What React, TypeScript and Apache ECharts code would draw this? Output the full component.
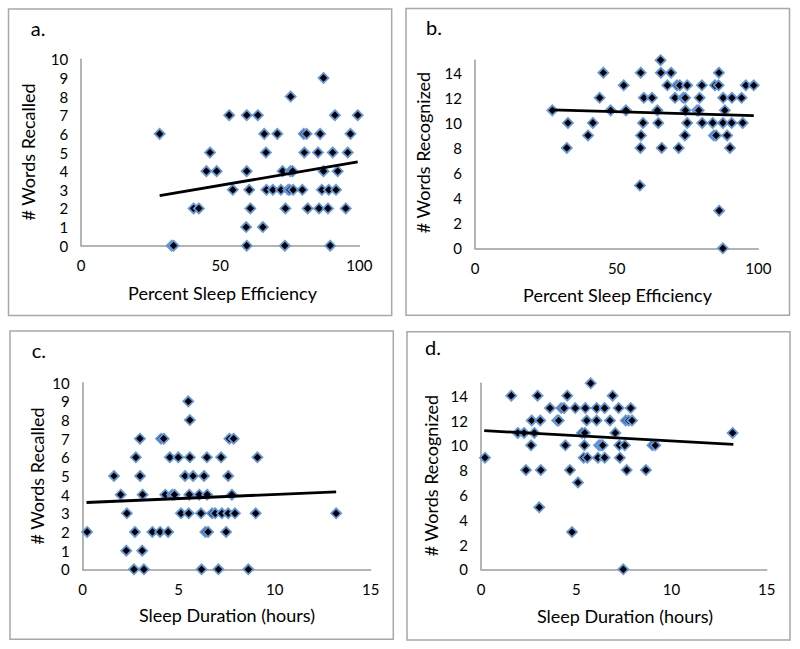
import React, { useEffect, useRef } from "react";
import * as echarts from "echarts";

// Panel a: Percent Sleep Efficiency vs # Words Recalled
const effRecalled: number[][] = [
  [28.2, 6], [32.5, 0], [33.2, 0], [40.4, 2], [42.3, 2], [45, 4], [48.7, 4], [46.3, 5],
  [53.2, 7], [54.5, 3], [59.5, 7], [59.5, 4], [59.3, 1], [59.5, 0], [60.4, 3], [60.8, 2],
  [63.5, 7], [65.3, 1], [65.8, 6], [66.4, 5], [66.6, 3], [68.9, 3], [70.5, 6], [71.8, 3],
  [72.4, 4], [73.4, 2], [73.2, 0], [74.4, 3], [75, 3], [75.3, 8], [75.2, 4], [76, 4],
  [76.2, 3], [79.5, 3], [80.2, 5], [80, 6], [81, 6], [81.4, 2], [85.1, 5], [85.9, 6],
  [85.5, 2], [86.5, 3], [87.1, 9], [87.1, 4], [89, 3], [88.7, 2], [89.5, 0], [90.4, 5],
  [91.2, 7], [91.6, 3], [92.2, 4], [95.1, 2], [95.8, 5], [96.8, 6], [99.4, 7],
];
const trendA: number[][] = [[28.2, 2.68], [99.4, 4.5]];

// Panel b: Percent Sleep Efficiency vs # Words Recognized
const effRecognized: number[][] = [
  [27.3, 11], [32.8, 10], [32.4, 8], [39.9, 9], [41.6, 10], [44, 12], [45.3, 14], [47.9, 11],
  [52.5, 13], [53.3, 11], [58.5, 14], [59.6, 12], [59.3, 10], [58.6, 9], [58.4, 8], [58.2, 5],
  [62.5, 12], [64.4, 11], [64.7, 10], [65.6, 14], [65.5, 15], [65.9, 8], [67.9, 13], [69.2, 14],
  [70.6, 12], [71.3, 13], [72.3, 13], [73.5, 12], [74.2, 12], [74.3, 11], [74.1, 9], [71.9, 8],
  [74.9, 13], [74.9, 10], [78.4, 11], [79, 11], [79.3, 12], [80.1, 13], [80.2, 10], [83.9, 10],
  [84.3, 9], [85.1, 9], [86.1, 14], [84.7, 13], [86, 13], [86.2, 3], [87.5, 0], [87.6, 12],
  [88.2, 11], [87.5, 10], [89, 9], [90, 8], [90.7, 12], [90.6, 10], [94.1, 12], [94.5, 10],
  [95.6, 13], [98.4, 13],
];
const trendB: number[][] = [[27.3, 11.04], [98.4, 10.58]];

// Panel c: Sleep Duration (hours) vs # Words Recalled
const durRecalled: number[][] = [
  [0.23, 2], [1.63, 5], [1.98, 4], [2.3, 3], [2.27, 1], [2.72, 2], [2.67, 0], [2.77, 6],
  [2.98, 7], [2.99, 5], [3.12, 4], [3.1, 1], [3.19, 0], [3.63, 2], [4.03, 2], [4.45, 2],
  [4.08, 7], [4.22, 7], [4.3, 4], [4.54, 6], [4.66, 4], [4.78, 4], [4.98, 6], [5.12, 3],
  [5.33, 5], [5.5, 9], [5.58, 8], [5.58, 6], [5.55, 4], [5.52, 3], [5.75, 5], [6.07, 4],
  [6.16, 3], [6.19, 0], [6.32, 5], [6.47, 6], [6.48, 4], [6.39, 2], [6.53, 2], [6.74, 3],
  [6.9, 3], [7.07, 0], [7.21, 6], [7.25, 3], [7.47, 2], [7.58, 5], [7.58, 3], [7.64, 7],
  [7.86, 7], [7.77, 4], [7.93, 3], [8.63, 0], [9.01, 3], [9.1, 6], [13.2, 3],
];
const trendC: number[][] = [[0.2, 3.58], [13.2, 4.15]];

// Panel d: Sleep Duration (hours) vs # Words Recognized
const durRecognized: number[][] = [
  [0.21, 9], [1.59, 14], [1.93, 11], [2.26, 11], [2.8, 11], [2.36, 8], [2.66, 12], [2.63, 10],
  [2.97, 14], [3.11, 12], [3.14, 8], [3.06, 5], [3.62, 13], [4.0, 12], [4.08, 12], [4.22, 13],
  [4.36, 13], [4.43, 10], [4.53, 14], [4.67, 8], [4.78, 3], [4.95, 13], [5.09, 7], [5.3, 11],
  [5.45, 11], [5.39, 9], [5.43, 10], [5.48, 13], [5.55, 12], [5.58, 9], [5.76, 15], [6.07, 13],
  [6.07, 12], [6.14, 9], [6.2, 10], [6.3, 10], [6.39, 10], [6.49, 13], [6.49, 9], [6.77, 12],
  [6.91, 14], [7.05, 11], [7.23, 13], [7.26, 10], [7.29, 9], [7.47, 0], [7.55, 10], [7.65, 8],
  [7.6, 12], [7.75, 12], [7.86, 13], [7.93, 12], [8.66, 8], [9.0, 10], [9.15, 10], [13.21, 11],
];
const trendD: number[][] = [[0.17, 11.18], [13.25, 10.08]];

const panelLetters = ["a.", "b.", "c.", "d."];
const xTitles = ["Percent Sleep Efficiency", "Percent Sleep Efficiency", "Sleep Duration (hours)", "Sleep Duration (hours)"];
const yTitles = ["# Words Recalled", "# Words Recognized", "# Words Recalled", "# Words Recognized"];

const FONT = 'Lato, "Open Sans", sans-serif';
const AXIS_GREY = "#9c9c9c";
const FRAME_GREY = "#a8a8a8";

export default function App() {
  const ref = useRef<HTMLDivElement>(null);

  useEffect(() => {
    if (!ref.current) return;
    const chart = echarts.init(ref.current, undefined, { renderer: "svg" });

    const grids = [
      { left: 81.2, top: 59.3, width: 278.2, height: 186.4 },
      { left: 475, top: 60.2, width: 283.3, height: 188.1 },
      { left: 82.7, top: 382.7, width: 288, height: 186.6 },
      { left: 481, top: 383.3, width: 285.7, height: 186 },
    ];
    const xRanges = [
      { min: 0, max: 100, interval: 50 },
      { min: 0, max: 100, interval: 50 },
      { min: 0, max: 15, interval: 5 },
      { min: 0, max: 15, interval: 5 },
    ];
    const yRanges = [
      { min: 0, max: 10, interval: 1 },
      { min: 0, max: 15, interval: 2 },
      { min: 0, max: 10, interval: 1 },
      { min: 0, max: 15, interval: 2 },
    ];
    const scatterData = [effRecalled, effRecognized, durRecalled, durRecognized];
    const trendData = [trendA, trendB, trendC, trendD];

    const frames = [
      { x: 8.5, y: 9, w: 383.2, h: 306.5 },
      { x: 406, y: 8.5, w: 383.5, h: 306.8 },
      { x: 10, y: 331, w: 383.3, h: 308.3 },
      { x: 407, y: 331.7, w: 383, h: 308.3 },
    ];
    const letterPos = [
      { x: 30.7, y: 28.3 },
      { x: 426, y: 26.7 },
      { x: 31.7, y: 350 },
      { x: 425, y: 346.7 },
    ];
    const yTitlePos = [
      { x: 28.3, y: 152 },
      { x: 422.7, y: 152.5 },
      { x: 37.3, y: 476 },
      { x: 430.7, y: 475.5 },
    ];
    const xTitlePos = [
      { x: 222.5, y: 293.3 },
      { x: 617.5, y: 295 },
      { x: 227, y: 615 },
      { x: 625, y: 616 },
    ];

    const graphic: any[] = [];
    for (let i = 0; i < 4; i++) {
      graphic.push({
        type: "rect",
        shape: { x: frames[i].x, y: frames[i].y, width: frames[i].w, height: frames[i].h },
        style: { fill: "none", stroke: FRAME_GREY, lineWidth: 1.5 },
        silent: true,
      });
      graphic.push({
        type: "text",
        x: letterPos[i].x,
        y: letterPos[i].y,
        style: { text: panelLetters[i], font: `20px ${FONT}`, fill: "#000", align: "left", verticalAlign: "middle" },
      });
      graphic.push({
        type: "text",
        x: yTitlePos[i].x,
        y: yTitlePos[i].y,
        rotation: Math.PI / 2,
        style: { text: yTitles[i], font: `18px ${FONT}`, fill: "#000", align: "center", verticalAlign: "middle" },
      });
      graphic.push({
        type: "text",
        x: xTitlePos[i].x,
        y: xTitlePos[i].y,
        style: { text: xTitles[i], font: `18px ${FONT}`, fill: "#000", align: "center", verticalAlign: "middle" },
      });
    }

    const axisCommon = {
      axisLine: { show: true, onZero: false, lineStyle: { color: AXIS_GREY, width: 1.5 } },
      axisTick: { show: false },
      splitLine: { show: false },
    };

    const option: any = {
      animation: false,
      backgroundColor: "#fff",
      grid: grids.map((g) => ({ ...g, containLabel: false, outerBoundsMode: "none" })),
      xAxis: grids.map((_, i) => ({
        type: "value",
        gridIndex: i,
        ...xRanges[i],
        ...axisCommon,
        axisLabel: { color: "#000", fontFamily: FONT, fontSize: 15, margin: 12, showMaxLabel: true },
      })),
      yAxis: grids.map((_, i) => ({
        type: "value",
        gridIndex: i,
        ...yRanges[i],
        ...axisCommon,
        axisLabel: {
          color: "#000",
          fontFamily: FONT,
          fontSize: 15,
          margin: 13,
          showMaxLabel: yRanges[i].max % yRanges[i].interval === 0,
        },
      })),
      series: [
        ...scatterData.map((d, i) => ({
          type: "scatter",
          xAxisIndex: i,
          yAxisIndex: i,
          data: d,
          symbol: "diamond",
          symbolSize: 10,
          itemStyle: { color: "#000", borderColor: "#6497da", borderWidth: 1.8, opacity: 1 },
          z: 2,
        })),
        ...trendData.map((d, i) => ({
          type: "line",
          xAxisIndex: i,
          yAxisIndex: i,
          data: d,
          symbol: "none",
          lineStyle: { color: "#000", width: 2.8 },
          z: 3,
        })),
      ],
      graphic,
    };

    chart.setOption(option);
    return () => chart.dispose();
  }, []);

  return (
    <div
      ref={ref}
      style={{ position: "fixed", left: 0, top: 0, width: 800, height: 649, background: "#fff" }}
    />
  );
}
